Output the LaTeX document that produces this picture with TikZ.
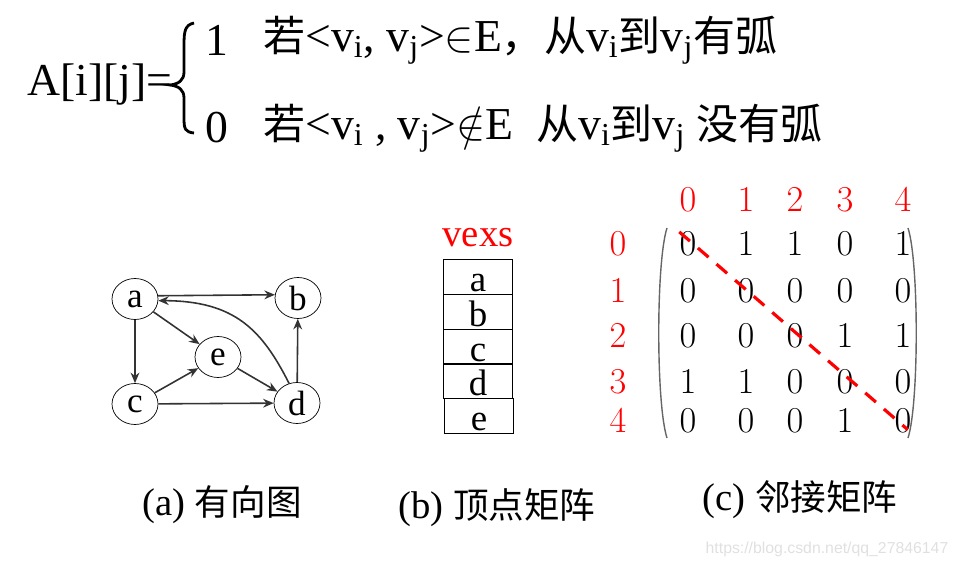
\documentclass[tikz,border=0pt]{standalone}
\usepackage{fontspec}
\setmainfont{Liberation Serif}
\newfontfamily\cjk[Scale=0.92]{Noto Sans CJK SC}
\newfontfamily\urlfont{Liberation Sans}
\usetikzlibrary{shapes.geometric, arrows.meta}
\newcommand{\zh}[1]{{\cjk #1}}
\tikzset{
  vtx/.style={draw, ellipse, minimum width=0.92cm, minimum height=0.82cm, inner sep=0pt, font=\fontsize{20}{20}\selectfont},
  arc/.style={-{Stealth[length=6pt,width=5pt]}, line width=0.9pt, draw=black!80},
  cell/.style={draw, line width=0.8pt, minimum width=1.38cm, minimum height=0.69cm, inner sep=0pt,
    text height=0.64cm, text depth=0.05cm, font=\fontsize{21}{21}\selectfont},
  entry/.style={inner sep=0pt, font=\fontsize{20}{20}\selectfont},
  idx/.style={entry, text=red},
  captxt/.style={font=\fontsize{22}{22}\selectfont, inner sep=0pt},
  big/.style={font=\fontsize{26}{26}\selectfont, inner sep=0pt},
}

\begin{document}
\begin{tikzpicture}[x=0.02cm, y=-0.02cm]
  \useasboundingbox (0,0) rectangle (958,568);

  % Definition
  \node[big, anchor=west] (lhs) at (27,85) {A[i][j]=};
  \draw[line width=1.6pt] (194,23) .. controls (185,25) and (184,31) .. (184,45) -- (184,72)
    .. controls (184,80) and (179,84) .. (170,85) .. controls (179,86) and (184,90) .. (184,98)
    -- (184,118) .. controls (184,129) and (185,132) .. (194,133);
  \node[big, anchor=west] (one) at (205,40) {1};
  \node[big, anchor=west] (zero) at (205,128) {0};
  \node[big, anchor=west] (yes) at (263,40)
    {\zh{若}<v\textsubscript{i}, v\textsubscript{j}>$\in$E\zh{，从}v\textsubscript{i}\zh{到}v\textsubscript{j}\zh{有弧}};
  \node[big, anchor=west] (no) at (263,128)
    {\zh{若}<v\textsubscript{i} , v\textsubscript{j}>$\notin$E\ \ \zh{从}v\textsubscript{i}\zh{到}v\textsubscript{j} \zh{没有弧}};

  % (a) graph
  \node[vtx] (a) at (135,299) {a};
  \node[vtx] (b) at (298,298) {b};
  \node[vtx] (e) at (218,357) {e};
  \node[vtx] (c) at (135,404) {c};
  \node[vtx] (d) at (297,403) {d};

  \draw[arc] (a.8) -- (b.172);
  \draw[arc] (a) -- (c);
  \draw[arc] (a) -- (e);
  \draw[arc] (c) -- (e);
  \draw[arc] (c) -- (d);
  \draw[arc] (e) -- (d);
  \draw[arc] (d) -- (b);
  \draw[arc] (d.112) .. controls (262,330) and (235,301) .. (a.-4);

  % (b) vertex array
  \node[text=red, font=\fontsize{22}{22}\selectfont] (vexs) at (478,238) {vexs};
  \node[cell] (v0) at (478,277) {a};
  \node[cell] (v1) at (478,312) {b};
  \node[cell] (v2) at (478,347) {c};
  \node[cell] (v3) at (478,381) {d};
  \node[cell] (v4) at (479,416) {e};

  % (c) adjacency matrix
  \foreach \i [count=\k from 0] in {688,746,795,845,903}
    \node[idx] (col\k) at (\i,200) {$\k$};
  \foreach \j [count=\k from 0] in {244,291,336,382,421}
    \node[idx] (row\k) at (618,\j) {$\k$};
  \foreach \vals [count=\r from 0] in {{0,1,1,0,1},{0,0,0,0,0},{0,0,0,1,1},{1,1,0,0,0},{0,0,0,1,0}} {
    \pgfmathsetmacro\yy{{244,291,336,382,421}[\r]}
    \foreach \v [count=\c from 0] in \vals {
      \pgfmathsetmacro\xx{{688,746,795,845,903}[\c]}
      \node[entry] (m\r\c) at (\xx,\yy) {$\v$};
    }
  }
  \draw[line width=0.8pt, black!60] (667,228) .. controls (656,262) and (656,404) .. (667,438);
  \draw[line width=0.8pt, black!60] (908,228) .. controls (919,262) and (919,404) .. (908,438);
  \draw[red, dashed, line width=1.8pt, dash pattern=on 8pt off 6pt, shorten >=3pt] (m00.north west) -- (m44.south east);

  % Captions
  \node[captxt] (capa) at (222,505) {(a) \zh{有向图}};
  \node[captxt] (capb) at (497,508) {(b) \zh{顶点矩阵}};
  \node[captxt] (capc) at (800,500) {(c) \zh{邻接矩阵}};

  \node[text=black!12, font=\urlfont\fontsize{9}{9}\selectfont] (url) at (827,549) {https://blog.csdn.net/qq\_27846147};
\end{tikzpicture}
\end{document}
